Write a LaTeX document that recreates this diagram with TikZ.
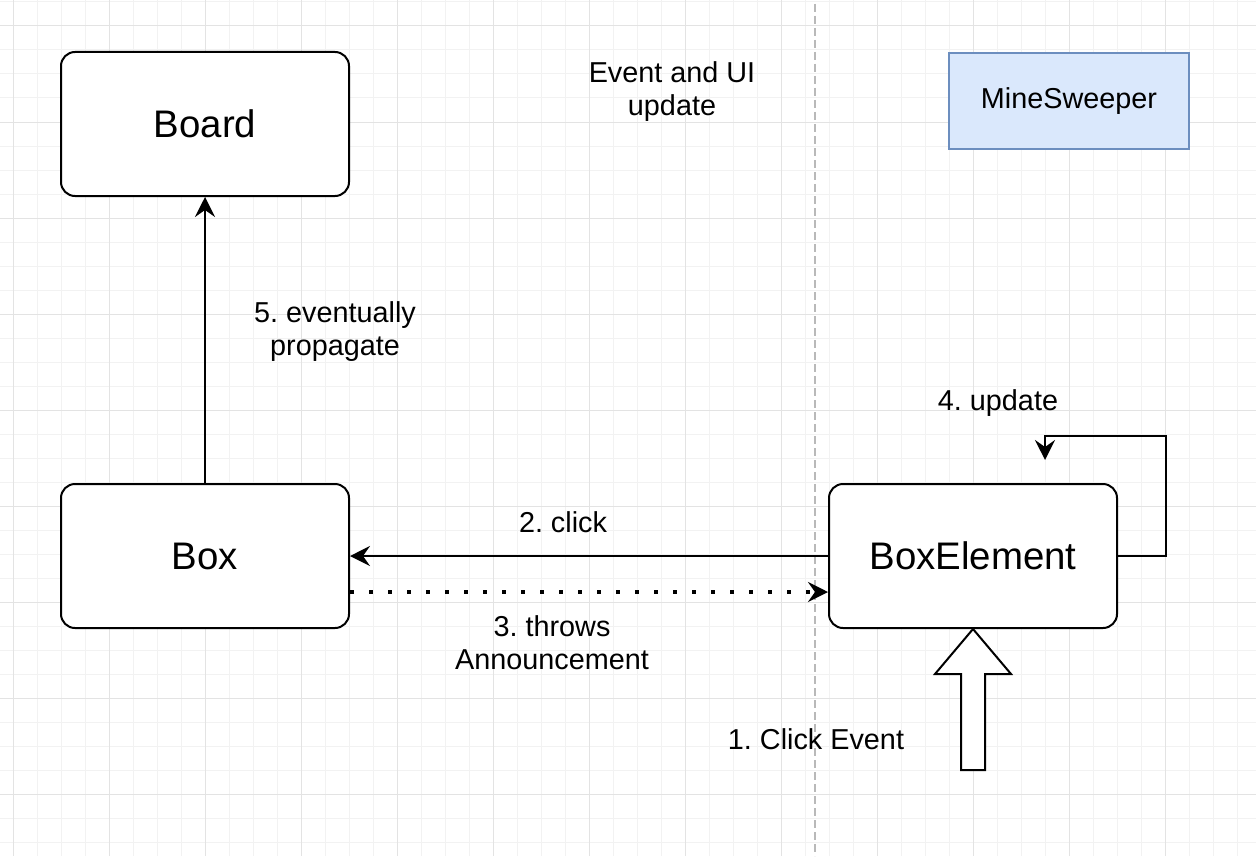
\documentclass[tikz,border=0pt]{standalone}
\usepackage{fontspec}
\setmainfont{Liberation Sans}
\frenchspacing
\usetikzlibrary{positioning, arrows.meta}

\definecolor{gridminor}{HTML}{F2F2F2}
\definecolor{gridmajor}{HTML}{E3E3E3}
\definecolor{msfill}{HTML}{DAE8FC}
\definecolor{msdraw}{HTML}{6C8EBF}

\tikzset{
  classbox/.style={draw, line width=1pt, rounded corners=7pt, fill=white,
    minimum width=144pt, minimum height=72pt, font=\fontsize{19.2}{22}\selectfont},
  lbl/.style={align=center, inner sep=0pt, font=\fontsize{14.4}{16.5}\selectfont},
  flow/.style={line width=1pt},
  dotflow/.style={line width=2pt, dash pattern=on 2pt off 7.5pt},
}

\begin{document}
\begin{tikzpicture}[x=0.5pt, y=-0.5pt, >={Stealth[length=10pt, width=10pt, inset=3.5pt]}]
  \useasboundingbox[fill=white] (0,0) rectangle (1256,856);
  % grid
  \foreach \gx in {13,37,...,1256} \draw[gridminor, line width=0.5pt] (\gx,0) -- (\gx,856);
  \foreach \gy in {2,26,...,856} \draw[gridminor, line width=0.5pt] (0,\gy) -- (1256,\gy);
  \foreach \gx in {13,109,...,1256} \draw[gridmajor, line width=0.5pt] (\gx,0) -- (\gx,856);
  \foreach \gy in {26,122,...,856} \draw[gridmajor, line width=0.5pt] (0,\gy) -- (1256,\gy);
  \draw[gray!55, line width=0.6pt, dash pattern=on 4pt off 2pt] (815,4) -- (815,856);

  \node[classbox]                      (board)  at (205,124) {Board};
  \node[classbox, below=143pt of board] (box)    {Box};
  \node[classbox, right=239pt of box]   (boxel)  {BoxElement};
  \node[draw=msdraw, fill=msfill, line width=1pt, minimum width=120pt, minimum height=48pt,
        font=\fontsize{14.4}{16.5}\selectfont] (minesweeper) at (1069,101) {MineSweeper};

  \node[lbl] (title)  at (672,92)  {Event and UI\\update};
  \node[lbl] (lprop)  at (335,332) {5. eventually\\propagate};
  \node[lbl] (lupd)   at (998,403) {4. update};
  \node[lbl] (lclick) at (563,522) {2. click};
  \node[lbl] (lthrow) at (552,643) {3. throws\\Announcement};
  \node[lbl] (levent) at (816,739) {1. Click Event};

  \coordinate (loopend) at (1045,460);

  \draw[->, flow] (box.north) -- (board.south);
  \draw[->, flow] (boxel.west) -- (box.east);
  \draw[->, dotflow] ([yshift=-18pt]box.east) -- ([yshift=-18pt]boxel.west);
  \draw[->, flow] (boxel.east) -- ++(24pt,0) |- ([yshift=12pt]loopend) -- (loopend);
  \draw[flow, fill=white] (961,770) -- (985,770) -- (985,674) -- (1011,674) -- (boxel.south)
    -- (935,674) -- (961,674) -- cycle;
\end{tikzpicture}
\end{document}
